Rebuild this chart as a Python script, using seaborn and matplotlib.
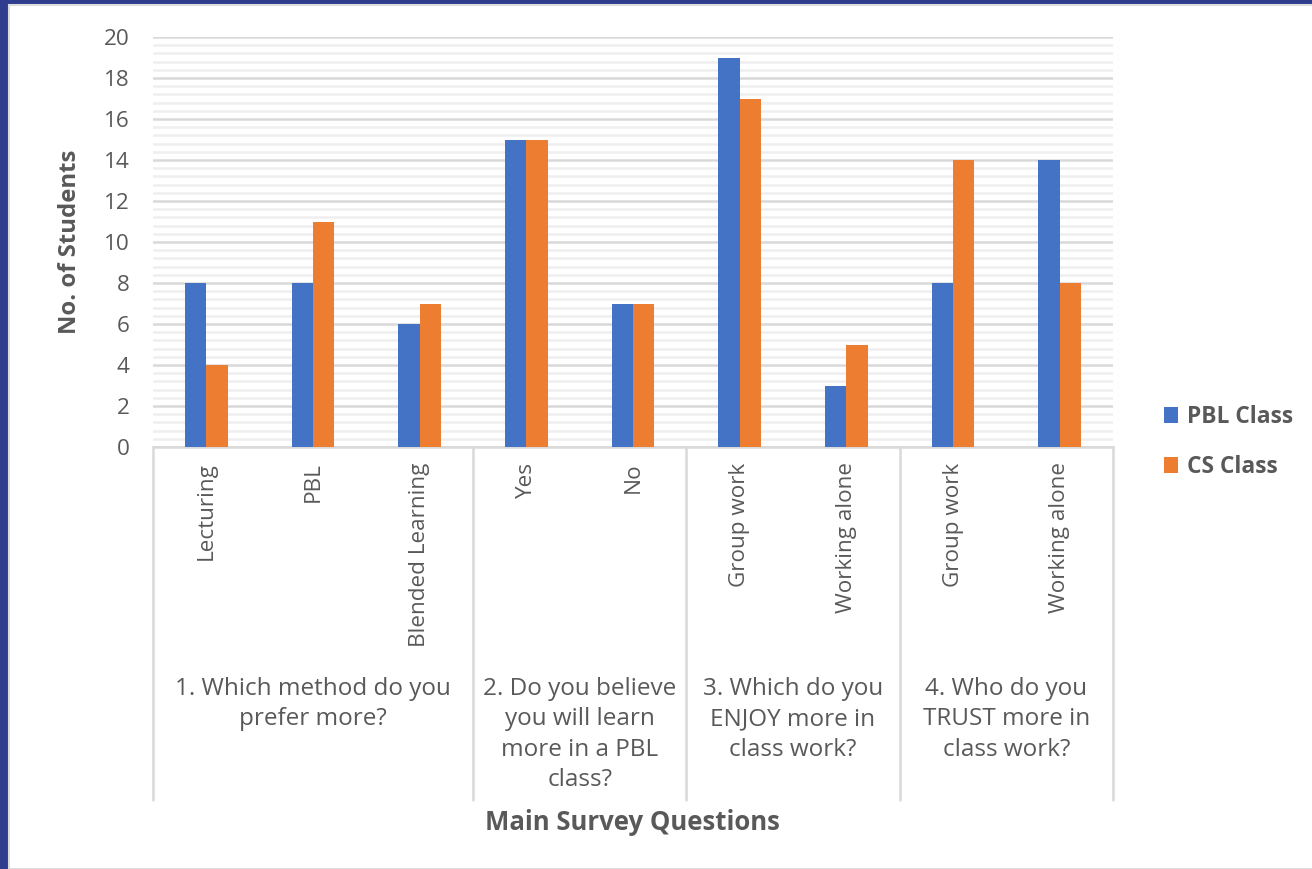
import matplotlib
matplotlib.use("Agg")
import matplotlib.pyplot as plt
import matplotlib.patches as mpatches
import matplotlib.transforms as mtransforms
import seaborn as sns
import pandas as pd
import numpy as np

# ---- data ----
categories = ["Lecturing", "PBL", "Blended Learning", "Yes", "No",
              "Group work", "Working alone", "Group work", "Working alone"]
pbl_class = [8, 8, 6, 15, 7, 19, 3, 8, 14]
cs_class = [4, 11, 7, 15, 7, 17, 5, 14, 8]
series_names = ["PBL Class", "CS Class"]
group_labels = ["1. Which method do you\nprefer more?",
                "2. Do you believe\nyou will learn\nmore in a PBL\nclass?",
                "3. Which do you\nENJOY more in\nclass work?",
                "4. Who do you\nTRUST more in\nclass work?"]
group_sizes = [3, 2, 2, 2]
y_ticks = [0, 2, 4, 6, 8, 10, 12, 14, 16, 18, 20]

colors = ["#4472C4", "#ED7D31"]
text_col = "#595959"
grid_major = "#d9d9d9"
grid_minor = "#efefef"

sns.set_theme(style="white")
plt.rcParams['font.family'] = ['Open Sans', 'DejaVu Sans']

ids = [f"c{i}" for i in range(len(categories))]
df = pd.DataFrame({
    "cat": ids * 2,
    "value": pbl_class + cs_class,
    "series": [series_names[0]] * len(ids) + [series_names[1]] * len(ids),
})

W, H = 1312, 869
fig = plt.figure(figsize=(W / 100, H / 100), dpi=100)
fig.patch.set_facecolor("#2f3d8f")
# white content panel inside the dark blue frame
fig.add_artist(mpatches.Rectangle((9 / W, 0), 1, 1 - 5 / H, transform=fig.transFigure,
                                  facecolor="white", edgecolor="#dcdcdc", lw=1.5, zorder=0))

ax_l, ax_r, ax_t, ax_b = 153, 1113, 37, 447
ax = fig.add_axes([ax_l / W, 1 - ax_b / H, (ax_r - ax_l) / W, (ax_b - ax_t) / H])
ax.set_facecolor("none")

sns.barplot(data=df, x="cat", y="value", hue="series", order=ids,
            hue_order=series_names, palette=colors, width=0.4, gap=0,
            saturation=1, ax=ax, zorder=3, legend=True,
            linewidth=0, edgecolor="none")

ax.set_ylim(0, 20)
ax.set_xlim(-0.5, len(ids) - 0.5)
ax.set_yticks(y_ticks)
ax.set_yticks(np.arange(0, 20.01, 0.4), minor=True)
ax.yaxis.grid(True, which="major", color=grid_major, lw=1.8, zorder=1)
ax.yaxis.grid(True, which="minor", color=grid_minor, lw=1.8, zorder=0)
ax.set_axisbelow(True)
for s in ["top", "right", "left"]:
    ax.spines[s].set_visible(False)
ax.spines["bottom"].set_color(grid_major)
ax.spines["bottom"].set_linewidth(1.8)

ax.tick_params(axis="y", which="both", length=0, pad=17, labelsize=16.2, labelcolor=text_col)
ax.tick_params(axis="x", which="both", length=0, pad=11, labelsize=16.2, labelcolor=text_col)
ax.set_xticks(range(len(ids)))
ax.set_xticklabels(categories, rotation=90, va="top", ha="center")
ax.set_xlabel("")
ax.set_ylabel("")

# group separators and group labels
trans = mtransforms.blended_transform_factory(ax.transData, ax.transAxes)
bottom_frac = (ax_b - 800) / (ax_b - ax_t)
label_frac = (ax_b - 677) / (ax_b - ax_t)
start = 0
bounds = [-0.5]
for size, lab in zip(group_sizes, group_labels):
    end = start + size
    bounds.append(end - 0.5)
    center = (start + end - 1) / 2
    ax.text(center, label_frac, lab, transform=trans, ha="center", va="top",
            fontsize=17.5, color=text_col, linespacing=1.36)
    start = end
for b in bounds:
    ax.plot([b, b], [0, bottom_frac], transform=trans, color=grid_major,
            lw=1.8, clip_on=False, zorder=2)

# axis titles
fig.text(70 / W, 1 - 242 / H, "No. of Students", rotation=90, ha="center", va="center",
         fontsize=17.2, fontweight="bold", color=text_col)
fig.text(632 / W, 1 - 822 / H, "Main Survey Questions", ha="center", va="center",
         fontsize=18.5, fontweight="bold", color=text_col)

# legend
leg = ax.legend(loc="center left", bbox_to_anchor=(1143 / W, 1 - 442 / H),
                bbox_transform=fig.transFigure, frameon=False,
                handlelength=0.65, handleheight=0.65, handletextpad=0.4,
                labelspacing=1.15, fontsize=16.4)
for t in leg.get_texts():
    t.set_color(text_col)
    t.set_fontweight("bold")

fig.savefig("out.png", dpi=100, facecolor=fig.get_facecolor())
